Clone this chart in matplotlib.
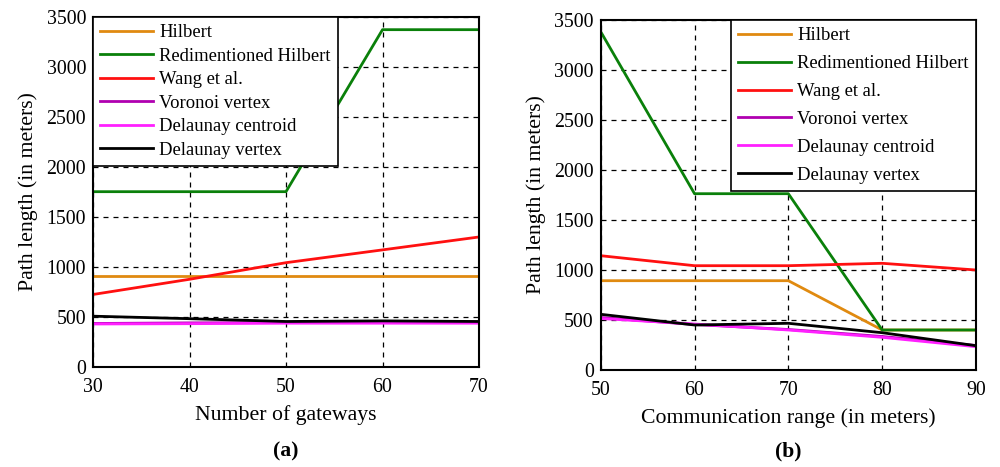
import matplotlib.pyplot as plt

plt.rcParams['font.family'] = ['Liberation Serif', 'DejaVu Serif']

# (a) path length vs number of gateways
gateways = [30, 40, 50, 60, 70]
a_hilbert = [905, 905, 905, 905, 905]
a_redim = [1750, 1750, 1750, 3370, 3370]
a_wang = [722, 874, 1040, 1168, 1297]
a_voronoi = [432, 438, 442, 445, 445]
a_del_centroid = [427, 430, 435, 435, 435]
a_del_vertex = [505, 480, 452, 458, 452]

# (b) path length vs communication range
comm_range = [50, 60, 70, 80, 90]
b_hilbert = [893, 893, 893, 400, 400]
b_redim = [3383, 1763, 1763, 400, 400]
b_wang = [1143, 1043, 1043, 1067, 1000]
b_voronoi = [525, 455, 405, 335, 245]
b_del_centroid = [515, 460, 400, 327, 233]
b_del_vertex = [557, 450, 467, 373, 243]

labels = ['Hilbert', 'Redimentioned Hilbert', 'Wang et al.',
          'Voronoi vertex', 'Delaunay centroid', 'Delaunay vertex']
colors = ['#E08A10', '#0A800A', '#FF1010', '#B000B0', '#FF20FF', '#000000']

fig = plt.figure(figsize=(10, 4.67), dpi=100)
ax1 = fig.add_axes([0.093, 0.2148, 0.386, 0.7495])
ax2 = fig.add_axes([0.6007, 0.2077, 0.3753, 0.7495])


def draw(ax, x, series, xlabel, tag, legend_loc, spacing):
    for ys, lab, col in zip(series, labels, colors):
        ax.plot(x, ys, color=col, lw=2, label=lab)
    ax.set_xlim(x[0], x[-1])
    ax.set_ylim(0, 3500)
    ax.set_xticks(x)
    ax.set_yticks(range(0, 3501, 500))
    ax.grid(True, color='black', linestyle=(0, (4, 4)), lw=0.9)
    ax.tick_params(length=0, labelsize=14.3)
    ax.tick_params(axis='x', pad=8)
    ax.tick_params(axis='y', pad=5)
    for s in ax.spines.values():
        s.set_linewidth(1.5)
    ax.set_xlabel(xlabel, fontsize=15.7, labelpad=6)
    ax.set_ylabel('Path length (in meters)', fontsize=15.7, labelpad=6)
    # panel tag centred under the axes
    bb = ax.get_position()
    fig.text((bb.x0 + bb.x1) / 2, 0.034, tag, ha='center', va='center',
             fontsize=15.7, fontweight='bold')
    leg = ax.legend(loc=legend_loc, fontsize=13.4, borderaxespad=0,
                    fancybox=False, framealpha=1, edgecolor='black',
                    handlelength=2.85, handletextpad=0.3, labelspacing=spacing,
                    borderpad=0.4)
    leg.get_frame().set_linewidth(1.2)


draw(ax1, gateways,
     [a_hilbert, a_redim, a_wang, a_voronoi, a_del_centroid, a_del_vertex],
     'Number of gateways', '(a)', 'upper left', 0.35)
draw(ax2, comm_range,
     [b_hilbert, b_redim, b_wang, b_voronoi, b_del_centroid, b_del_vertex],
     'Communication range (in meters)', '(b)', 'upper right', 0.58)

fig.savefig('out.png', dpi=100)
